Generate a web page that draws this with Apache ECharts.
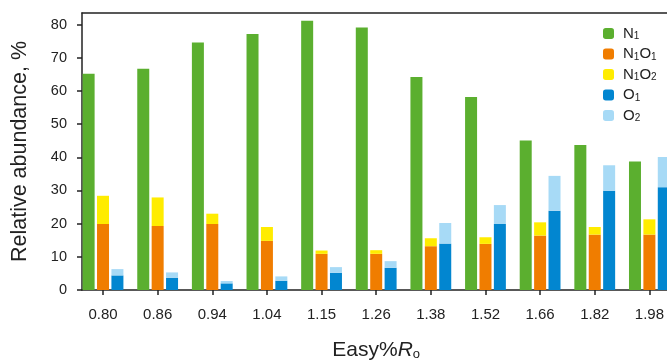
<!DOCTYPE html>
<html>
<head>
<meta charset="utf-8">
<script src="https://cdn.jsdelivr.net/npm/echarts@6/dist/echarts.min.js"></script>
<style>
  html, body { margin: 0; padding: 0; background: #fff; }
  #main { width: 667px; height: 360px; }
</style>
</head>
<body>
<div id="main"></div>
<script>
// Easy%Ro 成熟度
var categories = ['0.80', '0.86', '0.94', '1.04', '1.15', '1.26', '1.38', '1.52', '1.66', '1.82', '1.98'];
var n1 = [65.2, 66.7, 74.6, 77.2, 81.2, 79.1, 64.2, 58.2, 45.1, 43.7, 38.7];
var n1o1 = [19.9, 19.3, 19.9, 14.8, 10.9, 10.9, 13.2, 13.9, 16.4, 16.7, 16.7];
var n1o2 = [8.5, 8.6, 3.1, 4.2, 1.0, 1.1, 2.4, 2.0, 4.0, 2.3, 4.6];
var o1 = [4.4, 3.7, 2.0, 2.8, 5.2, 6.7, 14.0, 19.9, 23.9, 29.9, 31.0];
var o2 = [1.9, 1.6, 0.7, 1.3, 1.7, 2.0, 6.2, 5.7, 10.5, 7.7, 9.1];
var yTicks = [0, 10, 20, 30, 40, 50, 60, 70, 80];

var font = 'Liberation Sans, Arial, sans-serif';
var axisColor = '#222';
var legendRich = {
  sub: { fontSize: 10, fontFamily: font, color: '#222', verticalAlign: 'bottom', padding: [6, 0, 0, 0] }
};
var legendNames = {
  'N1': 'N{sub|1}',
  'N1O1': 'N{sub|1}O{sub|1}',
  'N1O2': 'N{sub|1}O{sub|2}',
  'O1': 'O{sub|1}',
  'O2': 'O{sub|2}'
};

var myChart = echarts.init(document.getElementById('main'));
myChart.setOption({
  animation: false,
  textStyle: { fontFamily: font },
  legend: {
    left: 598,
    top: 21,
    orient: 'vertical',
    itemWidth: 11,
    itemHeight: 11,
    itemGap: 5,
    align: 'left',
    data: ['N1', 'N1O1', 'N1O2', 'O1', 'O2'],
    formatter: function (name) { return legendNames[name]; },
    textStyle: { fontSize: 15, color: '#222', fontFamily: font, padding: [0, 0, 0, 4], rich: legendRich }
  },
  grid: [
    // 柱子所在网格（比坐标框略宽）
    { left: 75.7, right: -9.7, top: 13, bottom: 70, outerBoundsMode: 'none' },
    // 坐标框
    { left: 82, right: -10, top: 13, bottom: 70, outerBoundsMode: 'none' }
  ],
  xAxis: [
    {
      gridIndex: 0,
      type: 'category',
      data: categories,
      axisLine: { show: false },
      axisTick: { show: true, alignWithLabel: true, length: 5, lineStyle: { color: axisColor, width: 1.5 } },
      axisLabel: { margin: 17, fontSize: 15, color: '#222', fontFamily: font },
      name: 'Easy%{i|R}{sub|o}',
      nameLocation: 'middle',
      nameGap: 49,
      nameTextStyle: {
        fontSize: 21, color: '#222', fontFamily: font,
        rich: {
          i: { fontSize: 21, fontStyle: 'italic', color: '#222', fontFamily: font },
          sub: { fontSize: 13, color: '#222', fontFamily: font, verticalAlign: 'bottom', padding: [9, 0, 0, 0] }
        }
      }
    },
    {
      gridIndex: 1,
      type: 'value',
      min: 0,
      max: 1,
      axisLine: { show: true, onZero: false, lineStyle: { color: axisColor, width: 1.5 } },
      axisTick: { show: false },
      axisLabel: { show: false },
      splitLine: { show: false }
    },
    {
      gridIndex: 1,
      type: 'value',
      position: 'top',
      min: 0,
      max: 1,
      axisLine: { show: true, onZero: false, lineStyle: { color: axisColor, width: 1.5 } },
      axisTick: { show: false },
      axisLabel: { show: false },
      splitLine: { show: false }
    }
  ],
  yAxis: [
    {
      gridIndex: 0,
      type: 'value',
      min: 0,
      max: 83.5,
      show: false
    },
    {
      gridIndex: 1,
      type: 'value',
      min: 0,
      max: 83.5,
      axisLine: { show: true, onZero: false, lineStyle: { color: axisColor, width: 1.5 } },
      axisTick: { show: true, length: 5, customValues: yTicks, lineStyle: { color: axisColor, width: 1.5 } },
      axisLabel: { margin: 15, fontSize: 14.5, color: '#222', fontFamily: font, customValues: yTicks },
      splitLine: { show: false },
      name: 'Relative abundance, %',
      nameLocation: 'middle',
      nameGap: 51,
      nameTextStyle: { fontSize: 21.5, color: '#222', fontFamily: font }
    }
  ],
  series: [
    { name: 'N1', type: 'bar', xAxisIndex: 0, yAxisIndex: 0, barWidth: 12, barGap: '20%', data: n1, itemStyle: { color: '#5BAF2F' } },
    { name: 'N1O1', type: 'bar', xAxisIndex: 0, yAxisIndex: 0, stack: 'no', barWidth: 12, barGap: '20%', data: n1o1, itemStyle: { color: '#F07D00' } },
    { name: 'N1O2', type: 'bar', xAxisIndex: 0, yAxisIndex: 0, stack: 'no', barWidth: 12, barGap: '20%', data: n1o2, itemStyle: { color: '#FFEC00' } },
    { name: 'O1', type: 'bar', xAxisIndex: 0, yAxisIndex: 0, stack: 'o', barWidth: 12, barGap: '20%', data: o1, itemStyle: { color: '#0286D0' } },
    { name: 'O2', type: 'bar', xAxisIndex: 0, yAxisIndex: 0, stack: 'o', barWidth: 12, barGap: '20%', data: o2, itemStyle: { color: '#A7DAF6' } }
  ]
});
</script>
</body>
</html>
